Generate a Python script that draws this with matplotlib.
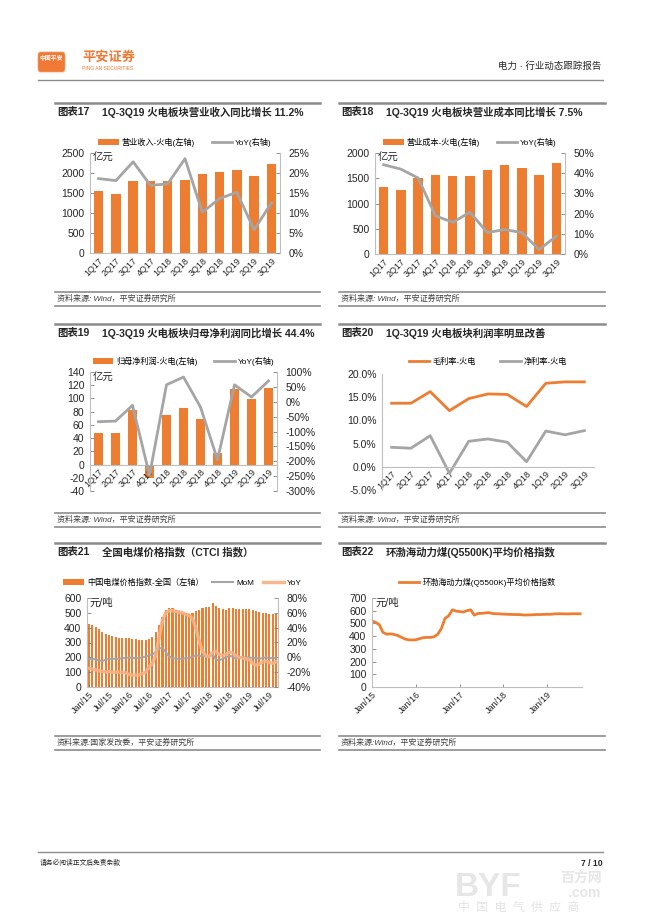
import numpy as np
import matplotlib.pyplot as plt
from matplotlib.patches import FancyBboxPatch
from matplotlib.ticker import FuncFormatter

plt.rcParams['font.family'] = ['Liberation Sans', 'Noto Sans CJK SC', 'DejaVu Sans']
plt.rcParams['axes.unicode_minus'] = False

W, H = 650, 919
ORANGE = '#ED7D31'
GREY = '#A5A5A5'
LORANGE = '#F4B183'
AXC = '#BFBFBF'
TXT = '#262626'

# ---- data ----
quarters = ['1Q17', '2Q17', '3Q17', '4Q17', '1Q18', '2Q18', '3Q18', '4Q18', '1Q19', '2Q19', '3Q19']
rev = [1542, 1475, 1792, 1792, 1808, 1833, 1975, 2033, 2075, 1933, 2217]
rev_yoy = [18.6, 18.1, 22.8, 16.9, 17.3, 23.6, 10.2, 13.6, 15.2, 5.8, 12.5]
cost = [1325, 1272, 1497, 1563, 1536, 1536, 1656, 1762, 1702, 1570, 1808]
cost_yoy = [44.2, 42.0, 37.6, 18.9, 15.7, 20.7, 10.6, 12.1, 10.6, 2.2, 8.8]
profit = [48, 48, 82, -20, 74.5, 86, 69, 17.5, 115, 99, 116]
profit_yoy = [-67, -65, -12, -247, 57, 83, -18, -195, 57, 16, 70]
gross_margin = [13.7, 13.7, 16.2, 12.1, 14.7, 15.7, 15.6, 13.0, 18.0, 18.3, 18.3]
net_margin = [4.2, 4.0, 6.7, -1.4, 5.5, 6.0, 5.3, 1.1, 7.7, 6.9, 7.8]

ctci_months = ['Jan/15', 'Jul/15', 'Jan/16', 'Jul/16', 'Jan/17', 'Jul/17', 'Jan/18', 'Jul/18', 'Jan/19', 'Jul/19']
ctci = [425, 415, 405, 388, 368, 360, 352, 343, 338, 333, 330, 332,
        330, 326, 322, 318, 317, 318, 325, 340, 370, 415, 470, 520,
        535, 530, 522, 512, 502, 496, 492, 496, 510, 522, 532, 537,
        540, 565, 548, 535, 525, 520, 530, 535, 525, 525, 525, 525,
        525, 518, 515, 505, 500, 498, 495, 492, 490]
ctci_mom = [-2, -2, -3, -4, -5, -3, -2, -2, -2, -2, -1, -1,
            0, -1, -1, -1, 0, 1, 3, 4, 7, 12, 13, 7,
            1, -1, -2, -2, -2, -1, -1, 1, 3, 2, 2, 1,
            1, 4, -3, -4, -2, 0, 2, 1, -2, 0, 0, 0,
            0, -1, -1, -2, -1, 0, -1, -1, -1]
ctci_yoy = [-15, -16, -17, -18, -19, -20, -19, -20, -20, -20, -20, -21,
            -23, -24, -24, -24, -22, -20, -13, -8, 3, 27, 50, 60,
            63, 63, 62, 61, 60, 58, 57, 52, 40, 22, 8, 2,
            1, 7, 8, 4, 2, 4, 7, 6, 2, 0, -1, -2,
            -3, -8, -11, -9, -6, -5, -7, -8, -6]

bohai_years = ['Jan/15', 'Jan/16', 'Jan/17', 'Jan/18', 'Jan/19']
bohai = [520, 508, 490, 430, 415, 418, 414, 405, 392, 378, 371, 370,
         371, 380, 388, 390, 390, 395, 415, 460, 540, 560, 607, 597,
         593, 590, 600, 607, 565, 578, 580, 582, 585, 578, 576, 575,
         573, 572, 571, 570, 570, 568, 566, 567, 568, 570, 570, 571,
         572, 572, 575, 576, 576, 575, 575, 576, 576, 576]

fig = plt.figure(figsize=(6.5, 9.19), dpi=100)


def box(x0, y0, x1, y1):
    return [x0 / W, 1 - y1 / H, (x1 - x0) / W, (y1 - y0) / H]


def txt(x, y, s, **kw):
    kw.setdefault('va', 'center')
    kw.setdefault('color', TXT)
    fig.text(x / W, 1 - y / H, s, **kw)


def hline(x0, x1, y, lw=1, color='#8C8C8C'):
    fig.add_artist(plt.Line2D([x0 / W, x1 / W], [1 - y / H] * 2, lw=lw, color=color))


def style(ax, right=None, xbottom_zero=False):
    ax.spines['top'].set_visible(False)
    ax.spines['right'].set_visible(False)
    ax.spines['left'].set_color(AXC)
    ax.spines['bottom'].set_color(AXC)
    if xbottom_zero:
        ax.spines['bottom'].set_position(('data', 0))
    ax.tick_params(axis='y', direction='in', length=3, width=0.6, color='#7F7F7F',
                   labelsize=7.5, labelcolor=TXT, pad=4)
    ax.tick_params(axis='x', length=0, labelsize=6.5, labelcolor=TXT, pad=2)
    if right is not None:
        for s in ['top', 'left', 'bottom']:
            right.spines[s].set_visible(False)
        right.spines['right'].set_color(AXC)
        right.tick_params(axis='y', direction='in', length=3, width=0.6, color='#7F7F7F',
                          labelsize=7.5, labelcolor=TXT, pad=6)


def pct(fmt):
    return FuncFormatter(lambda v, p: fmt % v)


def quarter_axis(ax):
    ax.set_xticks(np.arange(len(quarters)))
    ax.set_xticklabels(quarters, rotation=45, ha='right', rotation_mode='anchor')
    ax.set_xlim(-0.5, len(quarters) - 0.5)


def legend(ax, handles, labels, y, ncol, spacing=2.0):
    ax.legend(handles, labels, loc='center', bbox_to_anchor=(0.5, y), ncol=ncol,
              frameon=False, fontsize=5.9, handlelength=2.5, handleheight=0.7,
              columnspacing=spacing, handletextpad=0.4, borderaxespad=0)


def panel(xl, xr, ytitle, num, title, ysrc, src):
    hline(xl - 2, xr, ytitle - 9, lw=1.8)
    txt(xl, ytitle, num, fontsize=7.5, fontweight='bold')
    txt(xl + 45, ytitle, title, fontsize=7.5, fontweight='bold')
    hline(xl - 2, xr, ysrc - 7, lw=1.2)
    txt(xl, ysrc, src, fontsize=5.8, style='italic', color='#404040')
    hline(xl - 2, xr, ysrc + 7, lw=1.2)


# ---- header / footer ----
fig.add_artist(FancyBboxPatch((38 / W, 1 - 72 / H), 27 / W, 20 / H,
                              boxstyle='round,pad=0,rounding_size=0.004',
                              transform=fig.transFigure, fc='#F07A35', ec='#F0A070', lw=0.5))
txt(51.5, 58, '中国平安', fontsize=4.2, color='white', ha='center', fontweight='bold')
txt(82, 57, '平安证券', fontsize=9.5, color='#F07A35', fontweight='bold')
txt(82, 69, 'PING AN SECURITIES', fontsize=3.6, color='#F07A35')
txt(601, 66, '电力 · 行业动态跟踪报告', fontsize=6.8, ha='right')
hline(38, 603, 80, lw=1.0)

hline(38, 603, 852, lw=1.0)
txt(40, 863, '请务必阅读正文后免责条款', fontsize=4.9)
txt(603, 863, '7 / 10', fontsize=6.2, ha='right', fontweight='bold')
txt(455, 888, 'BYF', fontsize=24, color='#E6E6E6', fontweight='bold', ha='left')
txt(560, 878, '百方网', fontsize=10, color='#E6E6E6', fontweight='bold', ha='left')
txt(568, 893, '.com', fontsize=10, color='#E6E6E6', fontweight='bold', ha='left')
txt(458, 908, '中  国  电  气  供  应  商', fontsize=8.5, color='#E3E3E3', ha='left', style='italic')

SRC = '资料来源: Wind，平安证券研究所'
panel(57, 320, 112, '图表17', '1Q-3Q19 火电板块营业收入同比增长 11.2%', 299, SRC)
panel(341, 605, 112, '图表18', '1Q-3Q19 火电板块营业成本同比增长 7.5%', 299, SRC)
panel(57, 320, 333, '图表19', '1Q-3Q19 火电板块归母净利润同比增长 44.4%', 520, SRC)
panel(341, 605, 333, '图表20', '1Q-3Q19 火电板块利润率明显改善', 520, SRC)
panel(57, 320, 552, '图表21', '全国电煤价格指数（CTCI 指数）', 743, '资料来源:国家发改委，平安证券研究所')
panel(341, 605, 552, '图表22', '环渤海动力煤(Q5500K)平均价格指数', 743, '资料来源:Wind，平安证券研究所')

xq = np.arange(len(quarters))

# ---- chart 17 ----
ax = fig.add_axes(box(90, 153, 280, 253))
b = ax.bar(xq, rev, width=0.55, color=ORANGE)
ax2 = ax.twinx()
l, = ax2.plot(xq, rev_yoy, color=GREY, lw=2)
style(ax, ax2)
quarter_axis(ax)
ax.set_ylim(0, 2500)
ax.set_yticks(range(0, 2501, 500))
ax2.set_ylim(0, 25)
ax2.set_yticks(range(0, 26, 5))
ax2.yaxis.set_major_formatter(pct('%d%%'))
ax.text(0.015, 1.0, '亿元', transform=ax.transAxes, va='top', fontsize=7.5, color=TXT)
legend(ax, [b, l], ['营业收入-火电(左轴)', 'YoY(右轴)'], 1.11, 2)

# ---- chart 18 ----
ax = fig.add_axes(box(375, 153, 565, 254))
b = ax.bar(xq, cost, width=0.55, color=ORANGE)
ax2 = ax.twinx()
l, = ax2.plot(xq, cost_yoy, color=GREY, lw=2)
style(ax, ax2)
quarter_axis(ax)
ax.set_ylim(0, 2000)
ax.set_yticks(range(0, 2001, 500))
ax2.set_ylim(0, 50)
ax2.set_yticks(range(0, 51, 10))
ax2.yaxis.set_major_formatter(pct('%d%%'))
ax.text(0.015, 1.0, '亿元', transform=ax.transAxes, va='top', fontsize=7.5, color=TXT)
legend(ax, [b, l], ['营业成本-火电(左轴)', 'YoY(右轴)'], 1.11, 2)

# ---- chart 19 ----
ax = fig.add_axes(box(90, 372, 277, 491))
b = ax.bar(xq, profit, width=0.55, color=ORANGE)
ax2 = ax.twinx()
l, = ax2.plot(xq, profit_yoy, color=GREY, lw=2)
style(ax, ax2, xbottom_zero=True)
quarter_axis(ax)
ax.set_ylim(-40, 140)
ax.set_yticks(range(-40, 141, 20))
ax2.set_ylim(-300, 100)
ax2.set_yticks(range(-300, 101, 50))
ax2.yaxis.set_major_formatter(pct('%d%%'))
ax.text(0.015, 0.99, '亿元', transform=ax.transAxes, va='top', fontsize=7.5, color=TXT)
legend(ax, [b, l], ['归母净利润-火电(左轴)', 'YoY(右轴)'], 1.09, 2)

# ---- chart 20 ----
ax = fig.add_axes(box(382, 374, 594, 490))
l1, = ax.plot(xq, gross_margin, color=ORANGE, lw=2)
l2, = ax.plot(xq, net_margin, color=GREY, lw=2)
style(ax, xbottom_zero=True)
quarter_axis(ax)
ax.set_ylim(-5, 20)
ax.set_yticks(range(-5, 21, 5))
ax.yaxis.set_major_formatter(pct('%.1f%%'))
ax.tick_params(axis='y', length=0)
legend(ax, [l1, l2], ['毛利率-火电', '净利率-火电'], 1.105, 2, spacing=3.0)

# ---- chart 21 ----
xm = np.arange(len(ctci))
ax = fig.add_axes(box(87, 598, 278, 687))
b = ax.bar(xm, ctci, width=0.62, color=ORANGE)
ax2 = ax.twinx()
l1, = ax2.plot(xm, ctci_mom, color=GREY, lw=1.5)
l2, = ax2.plot(xm, ctci_yoy, color=LORANGE, lw=2.5, alpha=0.9)
style(ax, ax2)
ax.set_ylim(0, 600)
ax.set_yticks(range(0, 601, 100))
ax.set_xlim(-0.6, len(ctci) - 0.4)
ax.set_xticks(np.arange(0, len(ctci), 6))
ax.set_xticklabels(ctci_months, rotation=45, ha='right', rotation_mode='anchor')
ax2.set_ylim(-40, 80)
ax2.set_yticks(range(-40, 81, 20))
ax2.yaxis.set_major_formatter(pct('%d%%'))
ax.tick_params(axis='x', direction='in', length=2, width=0.6, color='#7F7F7F')
ax.text(0.015, 1.0, '元/吨', transform=ax.transAxes, va='top', fontsize=7.5, color=TXT)
legend(ax, [b, l1, l2], ['中国电煤价格指数-全国（左轴）', 'MoM', 'YoY'], 1.17, 3, spacing=1.1)

# ---- chart 22 ----
xb = np.arange(len(bohai))
ax = fig.add_axes(box(372, 598, 582, 687))
l, = ax.plot(xb, bohai, color=ORANGE, lw=2)
style(ax)
ax.set_ylim(0, 700)
ax.set_yticks(range(0, 701, 100))
ax.set_xlim(0, 57.5)
ax.set_xticks(np.arange(0, 49, 12))
ax.set_xticklabels(bohai_years, rotation=45, ha='right', rotation_mode='anchor')
ax.tick_params(axis='x', direction='in', length=2, width=0.6, color='#7F7F7F')
ax.text(0.015, 1.0, '元/吨', transform=ax.transAxes, va='top', fontsize=7.5, color=TXT)
legend(ax, [l], ['环渤海动力煤(Q5500K)平均价格指数'], 1.18, 1)

fig.savefig('out.png', dpi=100)
